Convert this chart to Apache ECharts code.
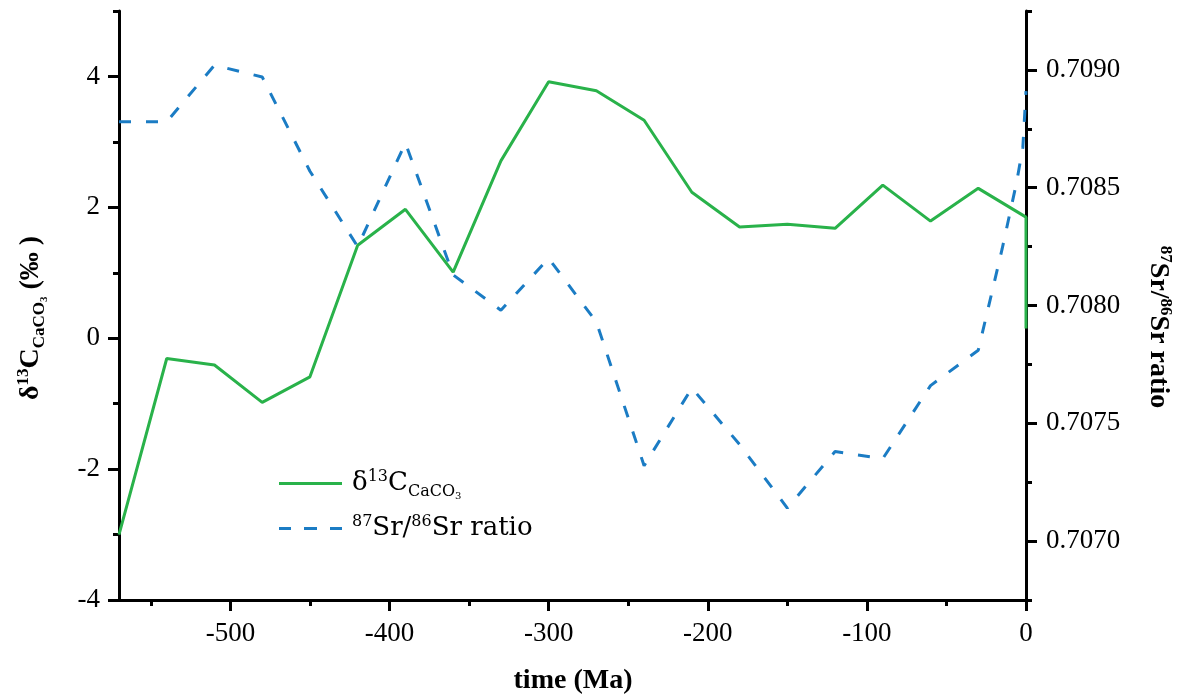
<!DOCTYPE html>
<html>
<head>
<meta charset="utf-8">
<script src="https://cdn.jsdelivr.net/npm/echarts@6/dist/echarts.min.js"></script>
<style>
  html, body { margin: 0; padding: 0; background: #ffffff; }
  #chart { width: 1179px; height: 697px; }
</style>
</head>
<body>
<div id="chart"></div>
<script>
// Phanerozoic seawater carbon and strontium isotope records (time in Ma, negative = before present)
const ageCarbon = [-570, -540, -510, -480, -450, -420, -390, -360, -330, -300, -270, -240, -210, -180, -150, -120, -90, -60, -30, 0, 0];
const d13C      = [-3.00, -0.31, -0.41, -0.98, -0.59, 1.42, 1.97, 1.01, 2.71, 3.92, 3.78, 3.33, 2.23, 1.70, 1.74, 1.68, 2.34, 1.79, 2.29, 1.85, 0.15];

const ageStrontium = [-570, -540, -510, -480, -450, -420, -390, -360, -330, -300, -270, -240, -210, -180, -150, -120, -90, -60, -30, -15, -6, -2, 0];
const srRatio      = [0.70878, 0.70878, 0.70902, 0.70897, 0.70857, 0.70825, 0.70869, 0.70813, 0.70798, 0.70820, 0.70793, 0.70732, 0.70765, 0.70741, 0.70714, 0.70738, 0.70735, 0.70766, 0.70781, 0.70824, 0.70852, 0.70867, 0.70891];

// Axis tick positions
const timeMajorTicks = [-500, -400, -300, -200, -100, 0];
const timeMinorTicks = [-550, -450, -350, -250, -150, -50];
const carbonMajorTicks = [-4, -2, 0, 2, 4];
const carbonMinorTicks = [-3, -1, 1, 3, 5];
const srMajorTicks = [0.7070, 0.7075, 0.7080, 0.7085, 0.7090];
const srMinorTicks = [0.70675, 0.70725, 0.70775, 0.70825, 0.70875, 0.70925];

const SERIF = '"Liberation Serif", "Times New Roman", serif';
const LEGEND_SERIF = '"DejaVu Serif", "Liberation Serif", serif';
const GREEN = '#29b24a';
const BLUE = '#1b7cc4';
const INK = '#000000';

// legend keys: a solid bar and three dashes
const SOLID_KEY = 'path://M0,0h63v3h-63z';
const DASHED_KEY = 'path://M0,0h12v3h-12z M25,0h13v3h-13z M51,0h12v3h-12z';

const chart = echarts.init(document.getElementById('chart'), null, { renderer: 'canvas' });

function majorTicks(values) {
  return { show: true, inside: false, customValues: values, length: 11, lineStyle: { color: INK, width: 3 } };
}
function minorTicks(values) {
  return { show: true, inside: false, customValues: values, length: 6, lineStyle: { color: INK, width: 3 } };
}
const hiddenLine = { show: false, onZero: false };
const solidLine = { show: true, onZero: false, lineStyle: { color: INK, width: 3 } };

// rich text pieces for sub/superscripts
function richSet(family, size, weight) {
  const sup = Math.round(size * 0.62);
  return {
    n:    { fontFamily: family, fontSize: size, fontWeight: weight, color: INK },
    sup:  { fontFamily: family, fontSize: sup, fontWeight: weight, color: INK, padding: [0, 0, Math.round(size * 0.5), 0] },
    sub:  { fontFamily: family, fontSize: sup, fontWeight: weight, color: INK, padding: [Math.round(size * 0.6), 0, 0, 0] },
    sub2: { fontFamily: family, fontSize: Math.round(size * 0.4), fontWeight: weight, color: INK, padding: [Math.round(size * 0.95), 0, 0, 0] }
  };
}
const carbonLabel = '{n|δ}{sup|13}{n|C}{sub|CaCO}{sub2|3}';
const strontiumLabel = '{sup|87}{n|Sr/}{sup|86}{n|Sr ratio}';

const option = {
  animation: false,
  backgroundColor: '#ffffff',
  grid: { left: 119, right: 153, top: 11, bottom: 97, containLabel: false, outerBoundsMode: 'none' },
  xAxis: [
    {
      type: 'value', min: -570, max: 0, position: 'bottom',
      axisLine: solidLine,
      axisTick: majorTicks(timeMajorTicks),
      axisLabel: { customValues: timeMajorTicks, fontFamily: SERIF, fontSize: 27, color: INK, margin: 20 },
      splitLine: { show: false }
    },
    {
      type: 'value', min: -570, max: 0, position: 'bottom',
      axisLine: hiddenLine,
      axisTick: minorTicks(timeMinorTicks),
      axisLabel: { show: false },
      splitLine: { show: false }
    }
  ],
  yAxis: [
    {
      type: 'value', min: -4, max: 5, position: 'left',
      axisLine: solidLine,
      axisTick: majorTicks(carbonMajorTicks),
      axisLabel: { customValues: carbonMajorTicks, fontFamily: SERIF, fontSize: 27, color: INK, margin: 19 },
      splitLine: { show: false }
    },
    {
      type: 'value', min: 0.70675, max: 0.70925, position: 'right',
      axisLine: solidLine,
      axisTick: majorTicks(srMajorTicks),
      axisLabel: {
        customValues: srMajorTicks, fontFamily: SERIF, fontSize: 27, color: INK, margin: 20,
        formatter: v => Number(v).toFixed(4)
      },
      splitLine: { show: false }
    },
    {
      type: 'value', min: -4, max: 5, position: 'left',
      axisLine: hiddenLine,
      axisTick: minorTicks(carbonMinorTicks),
      axisLabel: { show: false },
      splitLine: { show: false }
    },
    {
      type: 'value', min: 0.70675, max: 0.70925, position: 'right',
      axisLine: hiddenLine,
      axisTick: minorTicks(srMinorTicks),
      axisLabel: { show: false },
      splitLine: { show: false }
    }
  ],
  legend: {
    orient: 'vertical', left: 274, top: 464,
    itemWidth: 63, itemHeight: 3, itemGap: 13,
    data: [
      { name: 'carbon', icon: SOLID_KEY },
      { name: 'strontium', icon: DASHED_KEY }
    ],
    formatter: name => (name === 'carbon' ? carbonLabel : strontiumLabel),
    textStyle: { fontFamily: LEGEND_SERIF, fontSize: 26, color: INK, padding: [0, 0, 0, 5], rich: richSet(LEGEND_SERIF, 26, 'normal') }
  },
  series: [
    {
      name: 'carbon', type: 'line', xAxisIndex: 0, yAxisIndex: 0,
      data: ageCarbon.map((t, i) => [t, d13C[i]]),
      symbol: 'none', smooth: false,
      lineStyle: { color: GREEN, width: 3 }, itemStyle: { color: GREEN }, z: 3
    },
    {
      name: 'strontium', type: 'line', xAxisIndex: 0, yAxisIndex: 1,
      data: ageStrontium.map((t, i) => [t, srRatio[i]]),
      symbol: 'none', smooth: false,
      lineStyle: { color: BLUE, width: 3, type: [12, 15] }, itemStyle: { color: BLUE }, z: 2
    }
  ],
  graphic: [
    {
      type: 'text', x: 31, y: 318, rotation: Math.PI / 2,
      style: {
        text: carbonLabel + '{n| (‰ )}', rich: richSet(SERIF, 28, 'bold'),
        align: 'center', verticalAlign: 'middle', fill: INK
      }
    },
    {
      type: 'text', x: 1158, y: 327, rotation: -Math.PI / 2,
      style: {
        text: strontiumLabel, rich: richSet(SERIF, 28, 'bold'),
        align: 'center', verticalAlign: 'middle', fill: INK
      }
    },
    {
      type: 'text', x: 573, y: 681,
      style: {
        text: 'time (Ma)', fontFamily: SERIF, fontSize: 28, fontWeight: 'bold',
        align: 'center', verticalAlign: 'middle', fill: INK
      }
    }
  ]
};

chart.setOption(option);
</script>
</body>
</html>
